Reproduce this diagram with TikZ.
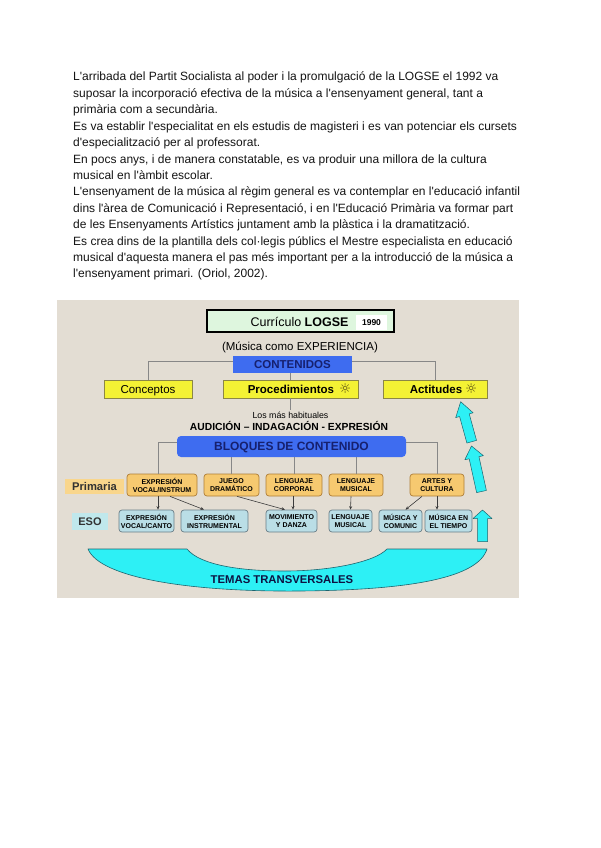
\documentclass[tikz,border=0pt]{standalone}
\usepackage{fontspec}
\newfontfamily\arialf{Liberation Sans}
\newfontfamily\dejavu{DejaVu Sans}
\usetikzlibrary{arrows.meta}
\definecolor{bgc}{RGB}{227,221,211}
\definecolor{titlefill}{RGB}{222,246,222}
\definecolor{blueb}{RGB}{62,108,240}
\definecolor{navy}{RGB}{22,32,110}
\definecolor{yel}{RGB}{244,242,52}
\definecolor{yelb}{RGB}{140,135,70}
\definecolor{orf}{RGB}{246,201,112}
\definecolor{orb}{RGB}{175,125,55}
\definecolor{prlab}{RGB}{249,214,140}
\definecolor{esof}{RGB}{186,222,230}
\definecolor{esob}{RGB}{105,125,135}
\definecolor{esolab}{RGB}{192,232,236}
\definecolor{cyanf}{RGB}{45,240,245}
\definecolor{cyanb}{RGB}{30,100,110}
\definecolor{linec}{RGB}{135,135,135}
\definecolor{arrc}{RGB}{60,60,60}
\definecolor{sunc}{RGB}{90,80,20}
\definecolor{dgray}{RGB}{50,50,50}
\definecolor{txt}{RGB}{20,20,20}
\newcommand{\blockarrow}[6]{% x y rot length headlen halfhead
  \draw[cyanarrow, shift={(#1,#2)}, rotate=#3]
    (-5,0) -- (-5,{-#4+#5}) -- (-#6,{-#4+#5}) -- (0,-#4) -- (#6,{-#4+#5}) -- (5,{-#4+#5}) -- (5,0) -- cycle;}
\newcommand{\sunsym}{{\dejavu\mdseries\fontsize{13.5}{13.5}\selectfont\color{sunc}☼}}
\begin{document}
\arialf
\begin{tikzpicture}[x=1pt,y=-1pt,
  bodyline/.style={anchor=base west, inner sep=0, text=txt, font=\fontsize{12}{14}\selectfont},
  capc/.style={text height=#1, text depth=0pt},
  bluebox/.style={fill=blueb, inner sep=0, text=navy},
  ybox/.style={draw=yelb, fill=yel, line width=0.8pt, minimum height=18, inner sep=0},
  pbox/.style={draw=orb, fill=orf, rounded corners=3pt, line width=0.7pt, minimum height=22, inner sep=0, align=center, font=\fontsize{7}{8}\selectfont\bfseries},
  ebox/.style={draw=esob, fill=esof, rounded corners=3pt, line width=0.7pt, minimum height=22, inner sep=0, align=center, font=\fontsize{7}{8}\selectfont\bfseries},
  conn/.style={draw=linec, line width=0.8pt},
  arr/.style={draw=arrc, line width=0.6pt, -{Stealth[length=3.5pt,width=3pt]}},
  cyanarrow/.style={fill=cyanf, draw=cyanb, line width=0.5pt, line join=round},
  lbl/.style={inner sep=0}
]
\useasboundingbox (0,0) rectangle (600,848);
\fill[white] (0,0) rectangle (600,848);

% body text
\node[bodyline] (t1) at (73,81) {L'arribada del Partit Socialista al poder i la promulgació de la LOGSE el 1992 va};
\node[bodyline] (t2) at (73,97.4) {suposar la incorporació efectiva de la música a l'ensenyament general, tant a};
\node[bodyline] (t3) at (73,113.8) {primària com a secundària.};
\node[bodyline] (t4) at (73,130.2) {Es va establir l'especialitat en els estudis de magisteri i es van potenciar els cursets};
\node[bodyline] (t5) at (73,146.6) {d'especialització per al professorat.};
\node[bodyline] (t6) at (73,163) {En pocs anys, i de manera constatable, es va produir una millora de la cultura};
\node[bodyline] (t7) at (73,179.4) {musical en l'àmbit escolar.};
\node[bodyline] (t8) at (73,195.8) {L'ensenyament de la música al règim general es va contemplar en l'educació infantil};
\node[bodyline] (t9) at (73,212.2) {dins l'àrea de Comunicació i Representació, i en l'Educació Primària va formar part};
\node[bodyline] (t10) at (73,228.6) {de les Ensenyaments Artístics juntament amb la plàstica i la dramatització.};
\node[bodyline] (t11) at (73,245) {Es crea dins de la plantilla dels col·legis públics el Mestre especialista en educació};
\node[bodyline] (t12) at (73,261.4) {musical d'aquesta manera el pas més important per a la introducció de la música a};
\node[bodyline] (t13) at (73,277.8) {l'ensenyament primari. (Oriol, 2002).};

% diagram background
\fill[bgc] (57,300) rectangle (519,598);

% title
\node[draw=black, line width=1.6pt, fill=titlefill, minimum width=187, minimum height=22, inner sep=0] (title) at (300.5,321) {};
\node[lbl, capc=9pt, font=\fontsize{12.5}{14}\selectfont] (titletext) at (299.5,321.5) {Currículo \textbf{LOGSE}};
\node[fill=white, minimum width=31, minimum height=15, inner sep=0, capc=6.1pt, font=\fontsize{8.5}{10}\selectfont\bfseries] (year) at (371.5,322.5) {1990};
\node[lbl, capc=8.2pt, font=\fontsize{11.5}{13}\selectfont] (sub) at (300,346.5) {(Música como EXPERIENCIA)};

% contenidos
\node[bluebox, capc=8.2pt, minimum width=119, minimum height=17, font=\fontsize{11.5}{13}\selectfont\bfseries] (cont) at (292.5,364.5) {CONTENIDOS};
\node[ybox, capc=8.2pt, minimum width=88, font=\fontsize{11.5}{13}\selectfont] (concept) at (148,389) {Conceptos};
\node[ybox, minimum width=135] (proc) at (290.5,389) {};
\node[lbl, capc=8.2pt, font=\fontsize{11.5}{13}\selectfont\bfseries] (proctext) at (299.5,389) {Procedimientos\hspace{5pt}\sunsym};
\node[ybox, minimum width=104] (act) at (435,389) {};
\node[lbl, capc=8.2pt, font=\fontsize{11.5}{13}\selectfont\bfseries] (acttext) at (443.5,389) {Actitudes\hspace{3pt}\sunsym};
\draw[conn] ([yshift=3.5pt]cont.west) -| (concept.north);
\draw[conn] ([yshift=3.5pt]cont.east) -| (act.north);
\draw[conn] (cont.south -| proc.north) -- (proc.north);

\node[lbl, capc=6.3pt, inner sep=1.5pt, font=\fontsize{8.8}{10}\selectfont] (habit) at (290.5,415) {Los más habituales};
\draw[conn] (proc.south) -- (habit.north);
\node[lbl, capc=7.4pt, font=\fontsize{10.3}{12}\selectfont\bfseries] (audi) at (289,426.5) {AUDICIÓN – INDAGACIÓN - EXPRESIÓN};

% bloques
\node[bluebox, capc=8.6pt, rounded corners=4pt, minimum width=229, minimum height=21, font=\fontsize{12}{14}\selectfont\bfseries] (bloq) at (291.5,446.5) {BLOQUES DE CONTENIDO};

% primaria row
\node[fill=prlab, capc=8pt, minimum width=59, minimum height=15, inner sep=0, text=dgray, font=\fontsize{11.2}{13}\selectfont\bfseries] (prim) at (94.5,486.5) {Primaria};
\node[pbox, minimum width=70] (evi) at (162,485) {EXPRESIÓN\\VOCAL/INSTRUM};
\node[pbox, minimum width=55] (jd) at (231.5,485) {JUEGO\\DRAMÁTICO};
\node[pbox, minimum width=56] (lc) at (294,485) {LENGUAJE\\CORPORAL};
\node[pbox, minimum width=54] (lm) at (356,485) {LENGUAJE\\MUSICAL};
\node[pbox, minimum width=54] (ac) at (437,485) {ARTES Y\\CULTURA};

\draw[conn] ([yshift=4.5pt]bloq.west) -| ([xshift=-4pt]evi.north);
\draw[conn] ([yshift=4.5pt]bloq.east) -| (ac.north);
\draw[conn] (bloq.south -| jd.north) -- (jd.north);
\draw[conn] (bloq.south -| lc.north) -- (lc.north);
\draw[conn] (bloq.south -| lm.north) -- (lm.north);

% ESO row
\node[fill=esolab, capc=7.9pt, minimum width=36, minimum height=17, inner sep=0, text=dgray, font=\fontsize{11}{13}\selectfont\bfseries] (eso) at (90,521.5) {ESO};
\node[ebox, minimum width=55] (evc) at (146.5,521) {EXPRESIÓN\\VOCAL/CANTO};
\node[ebox, minimum width=67] (ei) at (214.5,521) {EXPRESIÓN\\INSTRUMENTAL};
\node[ebox, minimum width=51] (md) at (291.5,521) {MOVIMIENTO\\Y DANZA};
\node[ebox, minimum width=43] (lme) at (350.5,521) {LENGUAJE\\MUSICAL};
\node[ebox, minimum width=43] (mc) at (400.5,521) {MÚSICA Y\\COMUNIC};
\node[ebox, minimum width=47] (mt) at (448.5,521) {MÚSICA EN\\EL TIEMPO};

\draw[arr] ([xshift=-4pt]evi.south) -- ([xshift=11.5pt]evc.north);
\draw[arr] ([xshift=8pt]evi.south) -- ([xshift=-10.5pt]ei.north);
\draw[arr] ([xshift=5.5pt]jd.south) -- ([xshift=-6.5pt]md.north);
\draw[arr] ([xshift=-1pt]lc.south) -- ([xshift=1.5pt]md.north);
\draw[arr] ([xshift=-5pt]lm.south) -- (lme.north);
\draw[arr] ([xshift=-15pt]ac.south) -- ([xshift=5pt]mc.north);
\draw[arr] (ac.south) -- ([xshift=-11.5pt]mt.north);

% cyan arrows
\blockarrow{471.7}{441.7}{15.4}{41.5}{14}{9}
\blockarrow{481.5}{491.5}{12.4}{46.6}{12}{9.5}
\blockarrow{482.5}{541.5}{0}{31.5}{8.5}{9.5}

% temas transversales
\filldraw[fill=cyanf, draw=cyanb, line width=0.6pt, line join=round]
  (88,549) -- (187,549)
  .. controls (200,565) and (240,571) .. (285,571)
  .. controls (330,571) and (375,562) .. (387,549)
  -- (487,549)
  .. controls (478,578) and (410,590) .. (300,591)
  .. controls (190,592) and (100,578) .. (88,549) -- cycle;
\node[lbl, capc=8.1pt, text=navy!60!black, font=\fontsize{11.3}{13}\selectfont\bfseries] (temas) at (282,579.5) {TEMAS TRANSVERSALES};
\end{tikzpicture}
\end{document}
